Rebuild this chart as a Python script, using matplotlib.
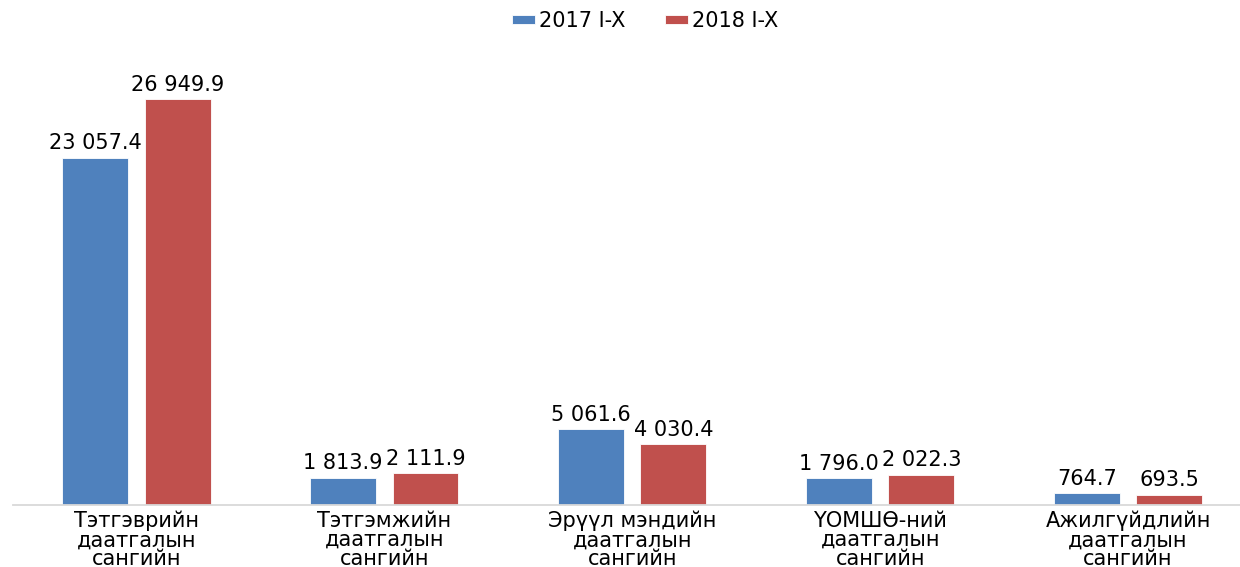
import matplotlib.pyplot as plt
import numpy as np

categories = [
    "Тэтгэврийн\nдаатгалын\nсангийн",
    "Тэтгэмжийн\nдаатгалын\nсангийн",
    "Эрүүл мэндийн\nдаатгалын\nсангийн",
    "ҮОМШӨ-ний\nдаатгалын\nсангийн",
    "Ажилгүйдлийн\nдаатгалын\nсангийн",
]
series_names = ["2017 I-X", "2018 I-X"]
values_2017 = [23057.4, 1813.9, 5061.6, 1796.0, 764.7]
values_2018 = [26949.9, 2111.9, 4030.4, 2022.3, 693.5]

BLUE = "#4F81BD"
RED = "#C0504D"
FS = 15

plt.rcParams['font.family'] = ['DejaVu Sans']

fig = plt.figure(figsize=(12.4, 5.67), dpi=100)
ax = fig.add_axes([0.0101, 0.1094, 0.9996, 0.7972])

x = np.arange(len(categories))
w = 0.266
off = 0.166

b1 = ax.bar(x - off, values_2017, w, color=BLUE, edgecolor="white", linewidth=0.6, label=series_names[0])
b2 = ax.bar(x + off, values_2018, w, color=RED, edgecolor="white", linewidth=0.6, label=series_names[1])


def fmt(v):
    return f"{v:,.1f}".replace(",", " ")


for bars, vals in [(b1, values_2017), (b2, values_2018)]:
    for rect, v in zip(bars, vals):
        ax.annotate(fmt(v), (rect.get_x() + rect.get_width() / 2, rect.get_height()),
                    xytext=(0, 3), textcoords="offset points",
                    ha="center", va="bottom", fontsize=FS, color="#000000")

ax.set_xlim(-0.5, len(categories) - 0.5)
ax.set_ylim(0, 30000)
ax.set_xticks(x)
ax.set_xticklabels(categories, fontsize=FS, linespacing=0.95, va="top")
ax.tick_params(axis="x", length=0, pad=4)
ax.set_yticks([])
for s in ["top", "right", "left"]:
    ax.spines[s].set_visible(False)
ax.spines["bottom"].set_color("#D9D9D9")
ax.spines["bottom"].set_linewidth(1.3)

fig.legend(handles=[b1, b2], labels=series_names, loc="center", bbox_to_anchor=(0.52, 0.963),
           ncol=2, frameon=False, fontsize=FS, handlelength=1.1, handleheight=0.3,
           handletextpad=0.2, columnspacing=1.9)

fig.savefig("out.png", dpi=100)
